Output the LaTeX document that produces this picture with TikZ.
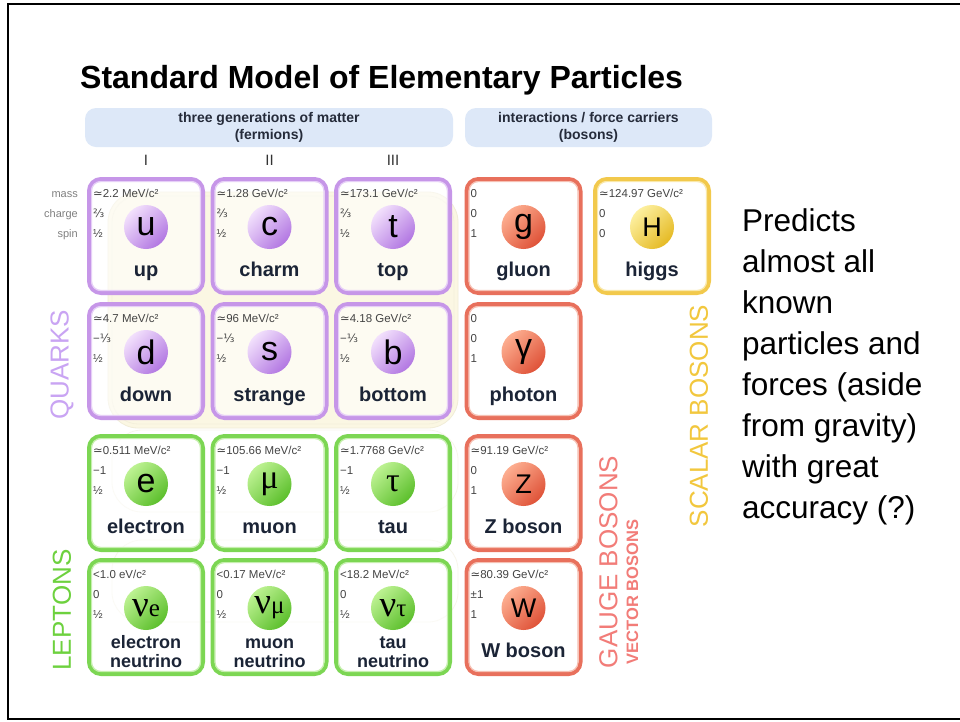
\documentclass[tikz,border=0pt]{standalone}
\usepackage{fontspec}
\setmainfont{Liberation Sans}
\newfontfamily\serifgr{Liberation Serif}
\newfontfamily\dvs{DejaVu Sans}
\usetikzlibrary{calc}

% card palettes: q = quarks, l = leptons, g = gauge bosons, h = higgs
\definecolor{qedge}{HTML}{C696E8}\definecolor{qglow}{HTML}{E6CFF7}
\definecolor{qhi}{HTML}{F2E0FC}\definecolor{qlo}{HTML}{B277E2}
\definecolor{ledge}{HTML}{7CD653}\definecolor{lglow}{HTML}{C6EFAE}
\definecolor{lhi}{HTML}{BDF292}\definecolor{llo}{HTML}{5CBF2C}
\definecolor{gedge}{HTML}{E8705C}\definecolor{gglow}{HTML}{F6C0B3}
\definecolor{ghi}{HTML}{FDAE90}\definecolor{glo}{HTML}{DF5238}
\definecolor{hedge}{HTML}{F2C94C}\definecolor{hglow}{HTML}{F9E8AA}
\definecolor{hhi}{HTML}{FDF0A0}\definecolor{hlo}{HTML}{E5BA24}
\definecolor{quarklab}{HTML}{C9A4F3}
\definecolor{leptonlab}{HTML}{6DD13E}
\definecolor{gaugelab}{HTML}{F27C78}
\definecolor{scalarlab}{HTML}{F2C73D}
\definecolor{headfill}{HTML}{DDE8F8}
\definecolor{headtext}{HTML}{252B3A}
\definecolor{namecol}{HTML}{1B2436}
\definecolor{propgray}{HTML}{444444}
\definecolor{labgray}{HTML}{808080}
\definecolor{cream}{HTML}{FBF7E3}
\definecolor{creamline}{HTML}{F1EDD8}

% glyph helpers for the property lines and particle symbols
\newcommand\apx{{\dvs ≃}}
\newcommand\twothird{{\dvs ⅔}}
\newcommand\mthird{−{\dvs ⅓}}
\newcommand\symlc[1]{{\fontsize{34}{34}\selectfont #1}}
\newcommand\symuc[1]{{\fontsize{27}{27}\selectfont #1}}
\newcommand\symgr[1]{{\serifgr\fontsize{34}{34}\selectfont #1}}
\newcommand\symnu[1]{{\serifgr\fontsize{37}{37}\selectfont ν\fontsize{25}{25}\selectfont #1}}

\tikzset{
  cardbox/.style={rectangle, rounded corners=12pt, line width=4pt,
    minimum width=114pt, minimum height=114pt, inner sep=0pt},
  prop/.style={anchor=base west, inner sep=0pt, text=propgray,
    font=\fontsize{11.5}{13}\selectfont},
  pname/.style={anchor=base, inner sep=0pt, text=namecol,
    font=\bfseries\fontsize{20}{24}\selectfont},
  pnamesmall/.style={anchor=base, inner sep=0pt, text=namecol,
    font=\bfseries\fontsize{18}{22}\selectfont},
  ball/.style={circle, minimum size=44pt, inner sep=0pt, text=black},
  rowlab/.style={anchor=base east, inner sep=0pt, text=labgray,
    font=\fontsize{11}{12}\selectfont},
  headbox/.style={fill=headfill, rounded corners=11pt},
  headtxt/.style={anchor=base, inner sep=0pt, text=headtext,
    font=\bfseries\fontsize{14}{16}\selectfont},
  gen/.style={inner sep=0pt, text=black!80, font=\fontsize{15}{15}\selectfont},
  sidelab/.style={rotate=90, inner sep=0pt, font=\fontsize{26}{26}\selectfont},
  region/.style={draw=creamline, line width=0.8pt},
}

% one particle card: id, left, top, palette, mass, charge, spin, symbol, name
\newcommand\particle[9]{%
  \begin{scope}[shift={(#2,#3)}]
    \node[cardbox, draw=#4edge, fill=white, fill opacity=.55] (#1) at (59,59) {};
    \draw[#4glow, line width=1.2pt, rounded corners=9pt] (4.6,4.6) rectangle (113.4,113.4);
    \node[prop] (#1-m) at (6,20) {#5};
    \node[prop] (#1-q) at (6,40) {#6};
    \node[prop] (#1-s) at (6,60) {#7};
    \node[ball, top color=#4hi, bottom color=#4lo, shading angle=45] (#1-sym) at (59,50) {#8};
    \node[pname] (#1-n) at (59,99) {#9};
  \end{scope}}

% neutrino card (lepton palette, two-line name): id, left, top, mass, charge, spin, symbol, line 1, line 2
\newcommand\neutrinocard[9]{%
  \begin{scope}[shift={(#2,#3)}]
    \node[cardbox, draw=ledge, fill=white, fill opacity=.55] (#1) at (59,59) {};
    \draw[lglow, line width=1.2pt, rounded corners=9pt] (4.6,4.6) rectangle (113.4,113.4);
    \node[prop] (#1-m) at (6,20) {#4};
    \node[prop] (#1-q) at (6,40) {#5};
    \node[prop] (#1-s) at (6,60) {#6};
    \node[ball, top color=lhi, bottom color=llo, shading angle=45] (#1-sym) at (59,50) {#7};
    \node[pnamesmall] (#1-n1) at (59,90) {#8};
    \node[pnamesmall] (#1-n2) at (59,109) {#9};
  \end{scope}}

\begin{document}
\begin{tikzpicture}[x=1pt,y=-1pt]
\useasboundingbox[fill=white] (0,0) rectangle (960,721);

% faint background regions behind the fermions
\fill[cream, rounded corners=30pt] (108,192) rectangle (458,428);
\draw[region, rounded corners=30pt] (108,192) rectangle (458,428);
\draw[region, rounded corners=26pt, draw opacity=.7] (112,196) rectangle (454,424);
\draw[region, rounded corners=30pt, draw opacity=.5] (112,430) rectangle (458,512);
\draw[region, rounded corners=30pt, draw opacity=.5] (112,540) rectangle (458,622);

% title
\node[anchor=base west, inner sep=0pt, font=\bfseries\fontsize{32}{36}\selectfont] (title) at (80,88)
  {Standard Model of Elementary Particles};

% group headers
\path[headbox] (85,108) rectangle (453,147);
\path[headbox] (465,108) rectangle (712,147);
\node[headtxt] (fermhead1) at (269,122) {three generations of matter};
\node[headtxt] (fermhead2) at (269,139) {(fermions)};
\node[headtxt] (boshead1) at (588.5,122) {interactions / force carriers};
\node[headtxt] (boshead2) at (588.5,139) {(bosons)};

% generation numerals
\node[gen] (genI) at (146,160) {I};
\node[gen] (genII) at (269.5,160) {II};
\node[gen] (genIII) at (393,160) {III};

% property row labels
\node[rowlab] (lmass) at (78,197) {mass};
\node[rowlab] (lcharge) at (78,217) {charge};
\node[rowlab] (lspin) at (78,237) {spin};

% quarks
\particle{up}{87}{177}{q}{\apx2.2 MeV/c²}{\twothird}{½}{\symlc{u}}{up}
\particle{charm}{210.5}{177}{q}{\apx1.28 GeV/c²}{\twothird}{½}{\symlc{c}}{charm}
\particle{top}{334}{177}{q}{\apx173.1 GeV/c²}{\twothird}{½}{\symlc{t}}{top}
\particle{down}{87}{302}{q}{\apx4.7 MeV/c²}{\mthird}{½}{\symlc{d}}{down}
\particle{strange}{210.5}{302}{q}{\apx96 MeV/c²}{\mthird}{½}{\symlc{s}}{strange}
\particle{bottom}{334}{302}{q}{\apx4.18 GeV/c²}{\mthird}{½}{\symlc{b}}{bottom}

% leptons
\particle{electron}{87}{434}{l}{\apx0.511 MeV/c²}{−1}{½}{\symlc{e}}{electron}
\particle{muon}{210.5}{434}{l}{\apx105.66 MeV/c²}{−1}{½}{\symgr{μ}}{muon}
\particle{tau}{334}{434}{l}{\apx1.7768 GeV/c²}{−1}{½}{\symgr{τ}}{tau}
\neutrinocard{nue}{87}{558}{<1.0 eV/c²}{0}{½}{\symnu{e}}{electron}{neutrino}
\neutrinocard{numu}{210.5}{558}{<0.17 MeV/c²}{0}{½}{\symnu{μ}}{muon}{neutrino}
\neutrinocard{nutau}{334}{558}{<18.2 MeV/c²}{0}{½}{\symnu{τ}}{tau}{neutrino}

% gauge bosons
\particle{gluon}{464.5}{177}{g}{0}{0}{1}{\symlc{g}}{gluon}
\particle{photon}{464.5}{302}{g}{0}{0}{1}{\symlc{γ}}{photon}
\particle{zboson}{464.5}{434}{g}{\apx91.19 GeV/c²}{0}{1}{\symuc{Z}}{Z boson}
\particle{wboson}{464.5}{558}{g}{\apx80.39 GeV/c²}{±1}{1}{\symuc{W}}{W boson}

% scalar boson
\particle{higgs}{593}{177}{h}{\apx124.97 GeV/c²}{0}{0}{\symuc{H}}{higgs}

% group labels
\node[sidelab, text=quarklab] (quarks) at (62,365) {QUARKS};
\node[sidelab, text=leptonlab] (leptons) at (62,610) {LEPTONS};
\node[sidelab, text=gaugelab] (gauge) at (608.5,562) {GAUGE BOSONS};
\node[rotate=90, inner sep=0pt, text=gaugelab, font=\bfseries\fontsize{16.5}{17}\selectfont] (vector) at (632.5,592) {VECTOR BOSONS};
\node[sidelab, text=scalarlab] (scalar) at (699,416) {SCALAR BOSONS};

% side remark
\node[anchor=north west, inner sep=0pt, align=left, font=\fontsize{31.5}{41}\selectfont] (remark) at (742,208)
  {Predicts\\almost all\\known\\particles and\\forces (aside\\from gravity)\\with great\\accuracy (?)};

% slide frame
\draw[line width=2pt] (964,4) -- (8,4) -- (8,719) -- (964,719);
\end{tikzpicture}
\end{document}
